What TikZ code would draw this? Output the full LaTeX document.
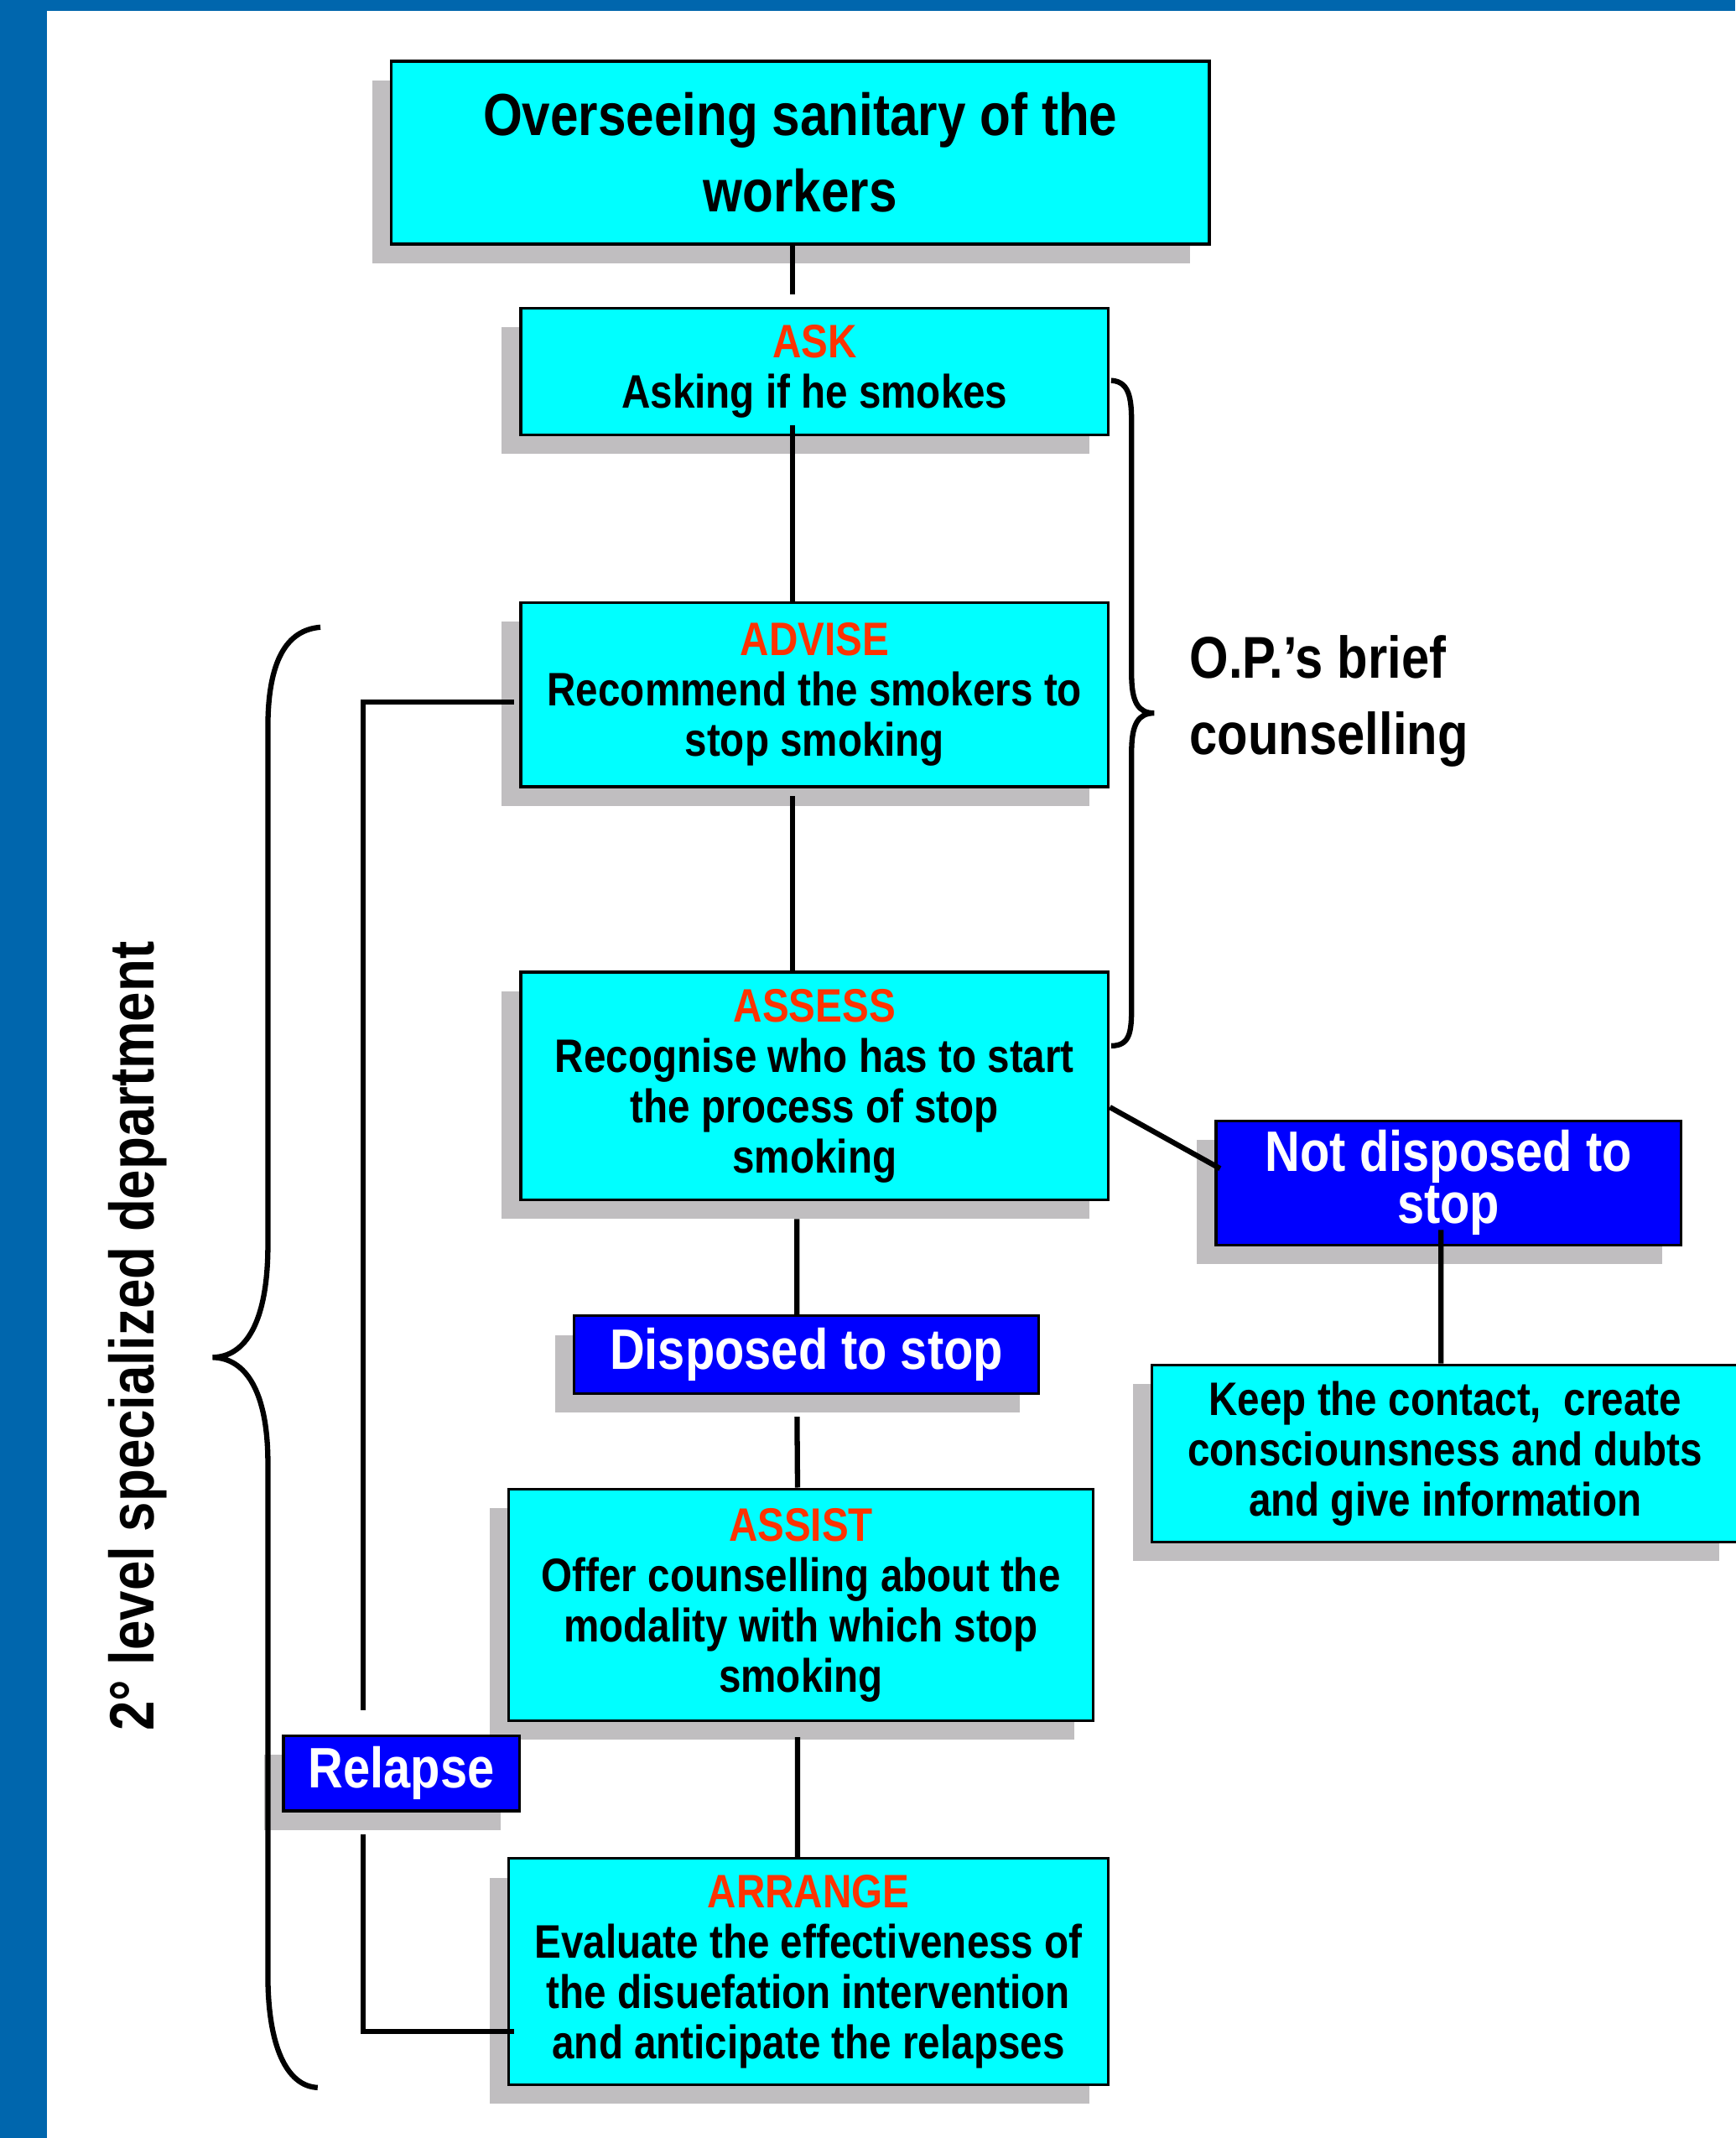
\documentclass[tikz,border=0pt]{standalone}
\usepackage{fontspec}
\setmainfont{Liberation Sans}
\newfontfamily\narrowfont[FakeStretch=0.85]{Liberation Sans}
\usetikzlibrary{positioning,calc,shadows}
\definecolor{frameblue}{RGB}{0,102,173}
\definecolor{boxcyan}{RGB}{0,255,255}
\definecolor{boxblue}{RGB}{0,0,255}
\definecolor{shadowgray}{RGB}{192,190,192}
\definecolor{labelred}{RGB}{255,51,0}
\newcommand{\steplabel}[1]{{\color{labelred}#1}}
\lineskiplimit=-5pt

\begin{document}
\begin{tikzpicture}[
    stage/.style={draw=black, line width=0.6pt, fill=boxcyan, inner sep=0pt, align=center,
        drop shadow={shadow xshift=-0.14cm, shadow yshift=-0.14cm, fill=shadowgray, opacity=1},
        font=\narrowfont\bfseries\fontsize{9.8}{10.5}\selectfont},
    choice/.style={stage, fill=boxblue, text=white,
        font=\narrowfont\bfseries\fontsize{11.9}{10.8}\selectfont},
    link/.style={line width=1.1pt},
    brace/.style={line width=1.1pt}
]
    \useasboundingbox (0,0) rectangle (12.73,-15.68);
    \fill[white] (0,0) rectangle (12.73,-15.68);
    \fill[frameblue] (0,0) rectangle (0.345,-15.68);
    \fill[frameblue] (0,0) rectangle (12.73,-0.08);

    \node[stage, minimum width=6cm, minimum height=1.34cm,
        font=\narrowfont\bfseries\fontsize{12.4}{15.9}\selectfont] (workers) at (5.87,-1.12)
        {Overseeing sanitary of the\\workers};
    \node[stage, minimum width=4.31cm, minimum height=0.93cm] (ask) at (5.975,-2.725)
        {\steplabel{ASK}\\Asking if he smokes};
    \node[stage, minimum width=4.31cm, minimum height=1.35cm] (advise) at (5.975,-5.095)
        {\steplabel{ADVISE}\\Recommend the smokers to\\stop smoking};
    \node[stage, minimum width=4.31cm, minimum height=1.67cm] (assess) at (5.975,-7.965)
        {\steplabel{ASSESS}\\Recognise who has to start\\the process of stop\\smoking};
    \node[choice, minimum width=3.41cm, minimum height=0.91cm] (notready) at (10.625,-8.675)
        {Not disposed to\\stop};
    \node[choice, minimum width=3.41cm, minimum height=0.57cm] (ready) at (5.915,-9.935)
        {Disposed to stop};
    \node[stage, minimum width=4.30cm, minimum height=1.30cm] (contact) at (10.60,-10.66)
        {Keep the contact,~ create\\consciounsness and dubts\\and give information};
    \node[stage, minimum width=4.29cm, minimum height=1.70cm] (assist) at (5.875,-11.77)
        {\steplabel{ASSIST}\\Offer counselling about the\\modality with which stop\\smoking};
    \node[choice, minimum width=1.73cm, minimum height=0.55cm] (relapse) at (2.945,-13.005)
        {Relapse};
    \node[stage, minimum width=4.40cm, minimum height=1.66cm] (arrange) at (5.93,-14.46)
        {\steplabel{ARRANGE}\\Evaluate the effectiveness of\\the disuefation intervention\\and anticipate the relapses};

    \coordinate (looptop) at (2.665,-12.54);
    \coordinate (loopbot) at (2.665,-13.45);

    \draw[link, shorten >=0.09cm] ([xshift=-0.055cm]workers.south) -- ([xshift=-0.16cm]ask.north);
    \draw[link, shorten <=-0.08cm] ([xshift=-0.16cm]ask.south) -- ([xshift=-0.16cm]advise.north);
    \draw[link, shorten <=0.06cm] ([xshift=-0.16cm]advise.south) -- ([xshift=-0.16cm]assess.north);
    \draw[link, shorten <=0.13cm] ([xshift=-0.13cm]assess.south) -- ([xshift=-0.07cm]ready.north);
    \draw[link, shorten <=0.16cm] ([xshift=-0.07cm]ready.south) -- ([xshift=-0.025cm]assist.north);
    \draw[link, shorten <=0.11cm] ([xshift=-0.025cm]assist.south) -- ([xshift=-0.08cm]arrange.north);
    \draw[link] ([yshift=-0.155cm]assess.east) -- ([xshift=0.04cm,yshift=0.105cm]notready.west);
    \draw[link, shorten <=-0.12cm] ([xshift=-0.055cm]notready.south) -- ([xshift=-0.03cm]contact.north);
    \draw[link] ([xshift=-0.04cm,yshift=-0.055cm]advise.west) -| (looptop);
    \draw[link] (loopbot) |- ([xshift=0.05cm,yshift=0.4cm]arrange.south west);

    \draw[brace] (8.15,-2.79) .. controls (8.30,-2.80) and (8.30,-2.95) .. (8.30,-3.15)
        -- (8.30,-4.95) .. controls (8.30,-5.15) and (8.35,-5.23) .. (8.465,-5.23)
        .. controls (8.35,-5.23) and (8.30,-5.31) .. (8.30,-5.51)
        -- (8.30,-7.35) .. controls (8.30,-7.55) and (8.30,-7.67) .. (8.15,-7.67);
    \draw[brace] (2.35,-4.60) .. controls (2.10,-4.62) and (1.965,-4.85) .. (1.965,-5.33)
        -- (1.965,-9.13) .. controls (1.965,-9.70) and (1.80,-9.95) .. (1.56,-9.955)
        .. controls (1.80,-9.96) and (1.965,-10.2) .. (1.965,-10.73)
        -- (1.965,-14.49) .. controls (1.965,-15.0) and (2.10,-15.3) .. (2.33,-15.31);

    \node[anchor=west, align=left, inner sep=0pt,
        font=\narrowfont\bfseries\fontsize{12.3}{15.9}\selectfont] (brief) at (8.72,-5.14)
        {O.P.’s brief\\counselling};
    \node[rotate=90, inner sep=0pt,
        font=\narrowfont\bfseries\fontsize{13.1}{15}\selectfont] (dept) at (1.01,-9.80)
        {2° level specialized department};
\end{tikzpicture}
\end{document}
